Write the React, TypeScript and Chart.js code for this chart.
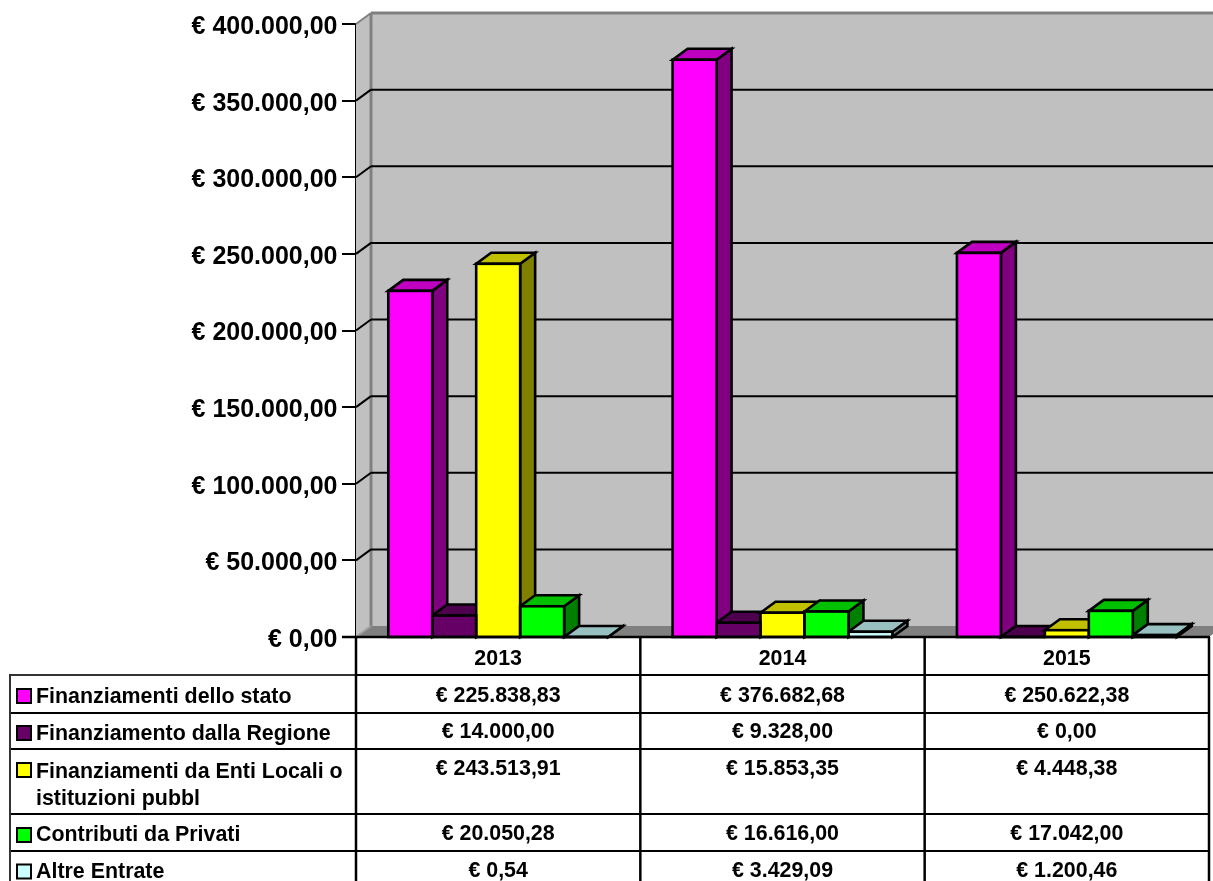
import React, { useEffect, useRef } from "react";
import { Chart, registerables } from "chart.js";

Chart.register(...registerables);

const years = ["2013", "2014", "2015"];
const seriesNames = [
  "Finanziamenti dello stato",
  "Finanziamento dalla Regione",
  "Finanziamenti da Enti Locali o istituzioni pubbl",
  "Contributi da Privati",
  "Altre Entrate",
];
const finanziamentiStato = [225838.83, 376682.68, 250622.38];
const finanziamentoRegione = [14000.0, 9328.0, 0.0];
const entiLocali = [243513.91, 15853.35, 4448.38];
const contributiPrivati = [20050.28, 16616.0, 17042.0];
const altreEntrate = [0.54, 3429.09, 1200.46];
const seriesValues = [finanziamentiStato, finanziamentoRegione, entiLocali, contributiPrivati, altreEntrate];

const frontColors = ["#FF00FF", "#660066", "#FFFF00", "#00FF00", "#CCFFFF"];
const topColors = ["#C000C0", "#4D004D", "#C0C000", "#00C000", "#99C0C0"];
const sideColors = ["#800080", "#330033", "#808000", "#008000", "#668080"];
const legendLines = [
  ["Finanziamenti dello stato"],
  ["Finanziamento dalla Regione"],
  ["Finanziamenti da Enti Locali o", "istituzioni pubbl"],
  ["Contributi da Privati"],
  ["Altre Entrate"],
];

const euro = (v: number) =>
  "€ " + v.toLocaleString("de-DE", { minimumFractionDigits: 2, maximumFractionDigits: 2 });

const DX = 15;
const DY = 11;
const EDGE = 2.6;
const FAMILY = '"Liberation Sans", Arial, sans-serif';
const TABLE_FONT = `bold 21.4px ${FAMILY}`;
const AXIS_FONT = `bold 25px ${FAMILY}`;
const rowLines = [675, 713, 749, 814, 851];
const legendTextY = [[697], [734], [772, 799], [835], [872]];
const valueTextY = [696, 732, 769, 834, 871];
const swatchY = [696, 733, 770, 835, 871.5];

const poly = (ctx: CanvasRenderingContext2D, pts: number[][], fill: string, stroke?: string, lw = EDGE) => {
  ctx.beginPath();
  pts.forEach((p, i) => (i ? ctx.lineTo(p[0], p[1]) : ctx.moveTo(p[0], p[1])));
  ctx.closePath();
  ctx.fillStyle = fill;
  ctx.fill();
  if (stroke) {
    ctx.strokeStyle = stroke;
    ctx.lineWidth = lw;
    ctx.lineJoin = "miter";
    ctx.stroke();
  }
};

const line = (ctx: CanvasRenderingContext2D, x1: number, y1: number, x2: number, y2: number, color: string, lw = 2) => {
  ctx.beginPath();
  ctx.moveTo(x1, y1);
  ctx.lineTo(x2, y2);
  ctx.strokeStyle = color;
  ctx.lineWidth = lw;
  ctx.stroke();
};

const wallsAndBoxes = {
  id: "wallsAndBoxes",
  beforeDatasetsDraw(chart: any) {
    const { ctx, chartArea, scales } = chart;
    const { left, right, top, bottom } = chartArea;
    const yScale = scales.y;
    ctx.save();
    poly(ctx, [[left, top], [left + DX, top - DY], [left + DX, bottom - DY], [left, bottom]], "#C0C0C0");
    poly(ctx, [[left + DX, top - DY], [right + DX, top - DY], [right + DX, bottom - DY], [left + DX, bottom - DY]], "#C0C0C0");
    poly(ctx, [[left, bottom], [left + DX, bottom - DY], [right + DX, bottom - DY], [right, bottom]], "#808080");
    line(ctx, left + DX, top - DY, left + DX, bottom - DY, "#808080", 3);
    line(ctx, left, top, left + DX, top - DY, "#808080", 2);
    line(ctx, left + DX, top - DY, right + DX, top - DY, "#808080", 3);
    line(ctx, left, bottom, left + DX, bottom - DY, "#A0A0A0", 2);
    yScale.ticks.forEach((t: any) => {
      if (t.value === 0 || t.value === yScale.max) return;
      const y = yScale.getPixelForValue(t.value);
      line(ctx, left, y, left + DX, y - DY, "#000", 2);
      line(ctx, left + DX, y - DY, right + DX, y - DY, "#000", 2);
    });
    years.forEach((_, c) => {
      seriesValues.forEach((_s, d) => {
        const bar = chart.getDatasetMeta(d).data[c];
        const half = bar.width / 2;
        const x0 = bar.x - half;
        const x1 = bar.x + half;
        const y = bar.y;
        poly(ctx, [[x1, y], [x1 + DX, y - DY], [x1 + DX, bottom - DY], [x1, bottom]], sideColors[d], "#000");
        poly(ctx, [[x0, y], [x0 + DX, y - DY], [x1 + DX, y - DY], [x1, y]], topColors[d], "#000");
      });
    });
    ctx.restore();
  },
  afterDatasetsDraw(chart: any) {
    const { ctx, chartArea } = chart;
    ctx.save();
    ctx.strokeStyle = "#000";
    ctx.lineWidth = EDGE;
    years.forEach((_, c) => {
      seriesValues.forEach((_s, d) => {
        const bar = chart.getDatasetMeta(d).data[c];
        ctx.strokeRect(bar.x - bar.width / 2, bar.y, bar.width, chartArea.bottom - bar.y);
      });
    });
    ctx.restore();
  },
  afterDraw(chart: any) {
    const { ctx, chartArea, scales, height } = chart;
    const { left, bottom } = chartArea;
    const xs = scales.x;
    const ys = scales.y;
    const cell = xs.getPixelForValue(1) - xs.getPixelForValue(0);
    const colEdges = years.map((_, i) => xs.getPixelForValue(i) - cell / 2).concat(xs.getPixelForValue(2) + cell / 2);
    ctx.save();
    ctx.fillStyle = "#000";
    ctx.font = AXIS_FONT;
    ctx.textAlign = "right";
    ctx.textBaseline = "middle";
    ys.ticks.forEach((t: any) => ctx.fillText(t.label, 337.5, ys.getPixelForValue(t.value) + 3));
    line(ctx, left - 14, bottom, colEdges[3] + 1, bottom, "#000", 2.5);
    line(ctx, 10, rowLines[0], left, rowLines[0], "#333", 2);
    line(ctx, left, rowLines[0], colEdges[3] + 1, rowLines[0], "#000", 2);
    rowLines.slice(1).forEach((y) => line(ctx, 10, y, colEdges[3] + 1, y, "#000", 2));
    line(ctx, 10, rowLines[0] - 1, 10, height, "#333", 2);
    colEdges.forEach((x) => line(ctx, x, bottom, x, height, "#000", 2.5));
    ctx.font = TABLE_FONT;
    legendLines.forEach((lines, r) => {
      const sy = swatchY[r];
      ctx.fillStyle = frontColors[r];
      ctx.fillRect(17, sy - 7, 14, 14);
      ctx.strokeStyle = "#000";
      ctx.lineWidth = 2;
      ctx.strokeRect(17, sy - 7, 14, 14);
      ctx.fillStyle = "#000";
      ctx.textAlign = "left";
      lines.forEach((text, i) => ctx.fillText(text, 36, legendTextY[r][i]));
      ctx.textAlign = "center";
      seriesValues[r].forEach((v, c) => ctx.fillText(euro(v), xs.getPixelForValue(c), valueTextY[r]));
    });
    ctx.restore();
  },
};

export default function App() {
  const ref = useRef<HTMLCanvasElement>(null);
  useEffect(() => {
    const chart = new Chart(ref.current!, {
      type: "bar",
      data: {
        labels: years,
        datasets: seriesNames.map((name, i) => ({
          label: name,
          data: seriesValues[i],
          backgroundColor: frontColors[i],
          borderWidth: 0,
          clip: false as any,
          categoryPercentage: 0.773,
          barPercentage: 1,
        })),
      },
      options: {
        responsive: false,
        animation: false,
        layout: { padding: { left: 0, right: 4, top: 24, bottom: 0 } },
        plugins: { legend: { display: false }, title: { display: false }, tooltip: { enabled: false } },
        scales: {
          x: {
            grid: { display: false },
            border: { display: false },
            afterFit(s: any) { s.height = 244; },
            ticks: {
              color: "#000",
              padding: 1,
              maxRotation: 0,
              font: { family: FAMILY, weight: "bold", size: 21.4 },
            },
          },
          y: {
            min: 0,
            max: 400000,
            afterFit(s: any) { s.width = 356; },
            border: { display: true, color: "#000", width: 2.5 },
            grid: { drawOnChartArea: false, tickLength: 14, tickColor: "#000", lineWidth: 2 },
            ticks: {
              stepSize: 50000,
              display: false,
              callback: (v: any) => euro(Number(v)),
            },
          },
        },
      },
      plugins: [wallsAndBoxes],
    } as any);
    return () => chart.destroy();
  }, []);
  return (
    <div style={{ position: "absolute", left: 0, top: 0, width: 1213, height: 881, overflow: "hidden", background: "#fff" }}>
      <canvas ref={ref} width={1213} height={881} style={{ display: "block" }} />
    </div>
  );
}
